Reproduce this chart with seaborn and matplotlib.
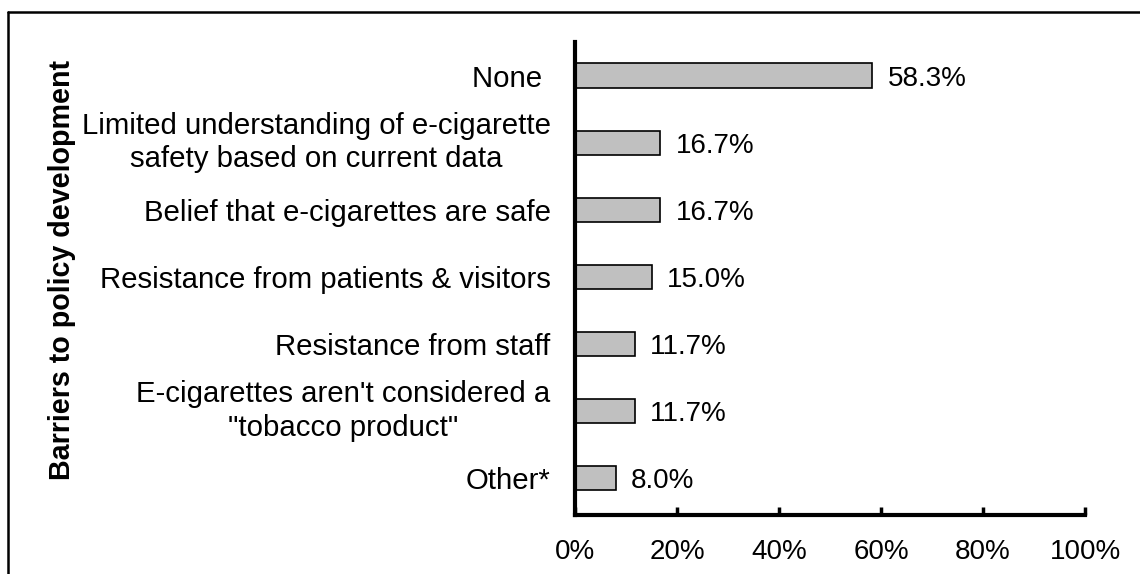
import matplotlib
matplotlib.use("Agg")
import matplotlib.pyplot as plt
import seaborn as sns
import pandas as pd
from matplotlib.lines import Line2D
from matplotlib.ticker import FuncFormatter

categories = [
    "None ",
    "Limited understanding of e-cigarette\nsafety based on current data",
    "Belief that e-cigarettes are safe",
    "Resistance from patients & visitors",
    "Resistance from staff",
    "E-cigarettes aren't considered a\n\"tobacco product\"",
    "Other*",
]
values = [58.3, 16.7, 16.7, 15.0, 11.7, 11.7, 8.0]
value_labels = ["58.3%", "16.7%", "16.7%", "15.0%", "11.7%", "11.7%", "8.0%"]
x_ticks = [0, 20, 40, 60, 80, 100]
y_title = "Barriers to policy development"

sns.set_style("white")
plt.rcParams["font.family"] = ["Liberation Sans", "DejaVu Sans"]
plt.rcParams["text.color"] = "black"
plt.rcParams["xtick.color"] = "black"
plt.rcParams["ytick.color"] = "black"
plt.rcParams["xtick.labelcolor"] = "black"
plt.rcParams["ytick.labelcolor"] = "black"

FS = 20
W, H = 1140, 574
fig = plt.figure(figsize=(W / 100, H / 100), dpi=100)
ax = fig.add_axes([575 / W, 1 - 515 / H, (1085 - 575) / W, (515 - 42) / H])

df = pd.DataFrame({"cat": categories, "val": values})
sns.barplot(data=df, x="val", y="cat", orient="h", color="#c0c0c0",
            edgecolor="black", linewidth=1.2, width=0.36, ax=ax, saturation=1)

ax.set_xlim(0, 100)
ax.set_ylim(6.55, -0.5)
ax.set_xticks(x_ticks)
ax.xaxis.set_major_formatter(FuncFormatter(lambda v, p: f"{v:.0f}%"))
ax.set_xlabel("")
ax.set_ylabel("")

for s in ["top", "right"]:
    ax.spines[s].set_visible(False)
for s in ["left", "bottom"]:
    ax.spines[s].set_linewidth(3)
    ax.spines[s].set_color("black")

ax.tick_params(axis="x", direction="in", length=6, width=2.5, color="black",
               labelsize=FS, pad=17, bottom=True, labelcolor="black")
ax.tick_params(axis="y", length=0, labelsize=21.2, pad=17.5, labelcolor="black")
for lab in ax.get_yticklabels():
    lab.set_multialignment("center")
    lab.set_linespacing(1.25)
    if "\n" in lab.get_text():
        lab.set_verticalalignment("center")
ax.grid(False)

for i, (v, t) in enumerate(zip(values, value_labels)):
    ax.text(v + 3, i + 0.05, t, va="center", ha="left", fontsize=FS, color="black")

fig.text(62 / W, 1 - 270 / H, y_title, rotation=90, ha="center", va="center",
         fontsize=20.6, fontweight="bold", color="black")

# outer frame (left and top edges visible)
fig.add_artist(Line2D([7.5 / W, 7.5 / W], [0, 1 - 12 / H], transform=fig.transFigure,
                      color="black", linewidth=1.8))
fig.add_artist(Line2D([7.5 / W, 1], [1 - 12 / H, 1 - 12 / H], transform=fig.transFigure,
                      color="black", linewidth=1.8))

fig.savefig("out.png", dpi=100)
